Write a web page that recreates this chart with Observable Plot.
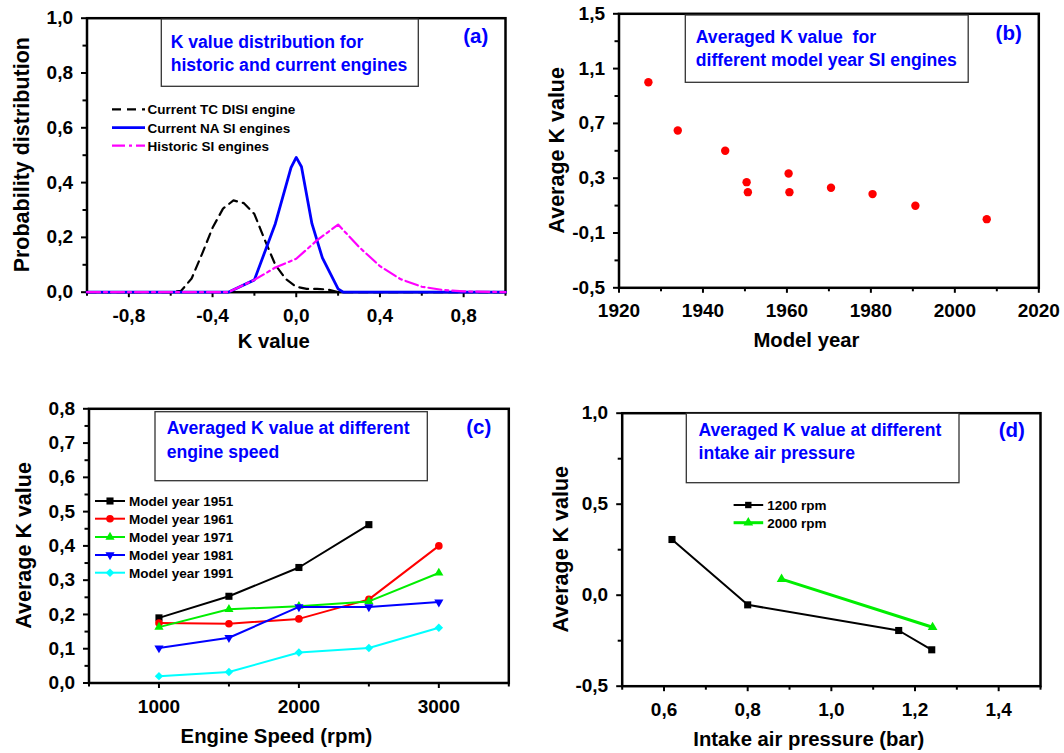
<!DOCTYPE html>
<html><head><meta charset="utf-8">
<script src="https://cdn.jsdelivr.net/npm/d3@7"></script>
<script src="https://cdn.jsdelivr.net/npm/@observablehq/plot@0.6"></script>
<style>
body{margin:0;background:#fff;}
#fig{position:relative;width:1064px;height:753px;overflow:hidden;background:#fff;}
#fig svg{position:absolute;}
</style></head><body><div id="fig"></div>
<script>
// ---------- Panel (a): K value distributions ----------
const tcK      = [-1, -0.6, -0.55, -0.5, -0.45, -0.4, -0.35, -0.3, -0.25, -0.2, -0.15, -0.1, -0.05, 0, 0.05, 0.1, 0.15, 0.2, 1];
const tcProb   = [0, 0, 0.005, 0.05, 0.14, 0.235, 0.305, 0.335, 0.325, 0.285, 0.19, 0.1, 0.048, 0.02, 0.012, 0.012, 0.01, 0, 0];
const naK      = [-1, -0.325, -0.2, -0.1, -0.025, 0, 0.025, 0.075, 0.125, 0.2, 0.225, 1];
const naProb   = [0, 0, 0.045, 0.25, 0.455, 0.492, 0.458, 0.25, 0.125, 0.012, 0, 0];
const histK    = [-1, -0.325, -0.2, -0.1, 0, 0.1, 0.2, 0.3, 0.4, 0.5, 0.6, 0.7, 0.8, 1];
const histProb = [0, 0, 0.045, 0.09, 0.122, 0.19, 0.247, 0.165, 0.095, 0.047, 0.02, 0.008, 0.003, 0];
const aSeries  = ["Current TC DISI engine", "Current NA SI engines", "Historic SI engines"];

// ---------- Panel (b): averaged K vs model year ----------
const modelYears = [1927, 1934, 1945.3, 1950.4, 1950.7, 1960.4, 1960.6, 1970.5, 1980.4, 1990.6, 2007.6];
const avgKYear   = [1.0, 0.648, 0.5, 0.271, 0.198, 0.334, 0.198, 0.23, 0.184, 0.099, 0.001];

// ---------- Panel (c): averaged K vs engine speed ----------
const speeds  = [1000, 1500, 2000, 2500, 3000];
const cSeries = ["Model year 1951", "Model year 1961", "Model year 1971", "Model year 1981", "Model year 1991"];
const k1951 = [0.19, 0.253, 0.337, 0.462];
const k1961 = [0.175, 0.173, 0.187, 0.244, 0.4];
const k1971 = [0.163, 0.215, 0.224, 0.238, 0.321];
const k1981 = [0.102, 0.132, 0.222, 0.222, 0.236];
const k1991 = [0.02, 0.032, 0.089, 0.102, 0.161];

// ---------- Panel (d): averaged K vs intake pressure ----------
const dSeries = ["1200 rpm", "2000 rpm"];
const p1200 = [0.619, 0.8, 1.161, 1.24];
const k1200 = [0.306, -0.053, -0.194, -0.3];
const p2000 = [0.881, 1.242];
const k2000 = [0.088, -0.176];

// ---------- Tick values ----------
const aXTicks = [-0.8, -0.4, 0, 0.4, 0.8], aXMinor = [-1, -0.6, -0.2, 0.2, 0.6, 1];
const aYTicks = [0, 0.2, 0.4, 0.6, 0.8, 1.0], aYMinor = [0.1, 0.3, 0.5, 0.7, 0.9];
const bXTicks = [1920, 1940, 1960, 1980, 2000, 2020], bXMinor = [1930, 1950, 1970, 1990, 2010];
const bYTicks = [-0.5, -0.1, 0.3, 0.7, 1.1, 1.5], bYMinor = [-0.3, 0.1, 0.5, 0.9, 1.3];
const cXTicks = [1000, 2000, 3000], cXMinor = [500, 1500, 2500, 3500];
const cYTicks = [0, 0.1, 0.2, 0.3, 0.4, 0.5, 0.6, 0.7, 0.8], cYMinor = [0.05, 0.15, 0.25, 0.35, 0.45, 0.55, 0.65, 0.75];
const dXTicks = [0.6, 0.8, 1.0, 1.2, 1.4], dXMinor = [0.5, 0.7, 0.9, 1.1, 1.3, 1.5];
const dYTicks = [-0.5, 0, 0.5, 1.0], dYMinor = [-0.25, 0.25, 0.75];

const FONT = "'Liberation Sans', Arial, Helvetica, sans-serif";
const BLUE = "#0000ff";
const fmt1 = d => d.toFixed(1).replace(".", ",");
const fmtInt = d => String(d);
const zip = (xs, ys) => xs.map((x, i) => ({x, y: ys[i]}));
const TICKFONT = {fontSize: 19, fontWeight: "bold", fontFamily: FONT};

const fig = d3.select("#fig");

function txt(g, s, x, y, size, fill, anchor) {
  return g.append("text").attr("x", x).attr("y", y)
    .attr("font-size", size).attr("font-weight", "bold").attr("font-family", FONT)
    .attr("fill", fill).attr("text-anchor", anchor || "start").text(s);
}

function makePanel(cfg) {
  const [mt, mr, mb, ml] = cfg.m;
  const svgNode = Plot.plot({
    width: cfg.w, height: cfg.h,
    marginTop: mt, marginRight: mr, marginBottom: mb, marginLeft: ml,
    style: {fontFamily: FONT, fontSize: "19px", fontWeight: "bold", background: "transparent", overflow: "visible", color: "black"},
    x: {domain: cfg.xd, axis: null},
    y: {domain: cfg.yd, axis: null},
    marks: [
      Plot.frame({stroke: "black", strokeWidth: 2.5}),
      Plot.axisX(cfg.xm, {anchor: "bottom", tickSize: 4, strokeWidth: 2, tickFormat: () => "", label: null}),
      Plot.axisX(cfg.xt, {anchor: "bottom", tickSize: 5.5, strokeWidth: 2, tickPadding: 10.5, tickFormat: cfg.xf, label: null, ...TICKFONT}),
      Plot.axisY(cfg.ym, {anchor: "left", tickSize: 4, strokeWidth: 2, tickFormat: () => "", label: null}),
      Plot.axisY(cfg.yt, {anchor: "left", tickSize: 5.5, strokeWidth: 2, tickPadding: 8.5, tickFormat: fmt1, label: null, ...TICKFONT}),
      ...cfg.marks
    ]
  });
  const svg = d3.select(svgNode).style("left", cfg.left + "px").style("top", cfg.top + "px");
  fig.node().appendChild(svgNode);
  const fx0 = ml, fx1 = cfg.w - mr, fy0 = mt, fy1 = cfg.h - mb;
  const g = svg.append("g");
  // axis titles
  txt(g, cfg.xTitle, (fx0 + fx1) / 2 - 22, fy1 + cfg.xtOff, 20.3, "black", "middle");
  const yx = fx0 - cfg.ytOff, yy = (fy0 + fy1) / 2;
  txt(g, cfg.yTitle, yx, yy, 21.5, "black", "middle").attr("transform", `rotate(-90 ${yx} ${yy})`);
  // annotation box
  const b = cfg.box;
  g.append("rect").attr("x", b.x).attr("y", b.y).attr("width", b.w).attr("height", b.h)
    .attr("fill", "white").attr("stroke", "#333").attr("stroke-width", 1.3);
  b.lines.forEach((t, i) => txt(g, t, b.tx, b.base[i], 17.6, BLUE, "start"));
  txt(g, cfg.tag.t, cfg.tag.x, cfg.tag.y, 20.5, BLUE, "middle");
  // legend
  const L = cfg.legend;
  L.items.forEach((it, i) => {
    const y = L.rows[i];
    g.append("line").attr("x1", L.x1).attr("x2", L.x2).attr("y1", y).attr("y2", y)
      .attr("stroke", it.color).attr("stroke-width", it.sw || 2)
      .attr("stroke-dasharray", it.dash || null);
    if (it.symbol) {
      g.append("path").attr("d", d3.symbol(it.symbol, Math.PI * it.r * it.r)())
        .attr("transform", `translate(${L.mx},${y}) rotate(${it.rot || 0})`).attr("fill", it.color);
    }
    txt(g, it.label, L.tx, y + 4.8, 13.5, "black", "start");
  });
  return svgNode;
}

// ----- (a) -----
makePanel({
  left: 0, top: 0, w: 532, h: 376, m: [17.7, 27, 84.3, 86.5],
  xd: [-1, 1], yd: [0, 1], xt: aXTicks, xm: aXMinor, xf: fmt1, yt: aYTicks, ym: aYMinor,
  xTitle: "K value", yTitle: "Probability distribution", xtOff: 56, ytOff: 57,
  box: {x: 161.3, y: 19, w: 257, h: 67.3, tx: 170.7, base: [48.3, 71],
        lines: ["K value distribution for", "historic and current engines"]},
  tag: {t: "(a)", x: 475.7, y: 42.5},
  legend: {x1: 112, x2: 145, tx: 147.5, rows: [109.3, 127.7, 145.7], items: [
    {label: aSeries[0], color: "black", dash: "9,6", sw: 2.2},
    {label: aSeries[1], color: BLUE, sw: 2.8},
    {label: aSeries[2], color: "#ff00ff", dash: "13,4,3,4", sw: 2.2}
  ]},
  marks: [
    Plot.line(zip(tcK, tcProb), {x: "x", y: "y", stroke: "black", strokeWidth: 2.2, strokeDasharray: "9,6"}),
    Plot.line(zip(naK, naProb), {x: "x", y: "y", stroke: BLUE, strokeWidth: 2.8}),
    Plot.line(zip(histK, histProb), {x: "x", y: "y", stroke: "#ff00ff", strokeWidth: 2.2, strokeDasharray: "13,4,3,4"})
  ]
});

// ----- (b) -----
makePanel({
  left: 532, top: 0, w: 532, h: 376, m: [13.3, 25.7, 88.7, 86.5],
  xd: [1920, 2020], yd: [-0.5, 1.5], xt: bXTicks, xm: bXMinor, xf: fmtInt, yt: bYTicks, ym: bYMinor,
  xTitle: "Model year", yTitle: "Average K value", xtOff: 59.4, ytOff: 54,
  box: {x: 153.3, y: 15, w: 282.9, h: 67.3, tx: 163.8, base: [43.3, 66],
        lines: ["Averaged K value  for", "different model year SI engines"]},
  tag: {t: "(b)", x: 476.7, y: 40},
  legend: {rows: [], items: []},
  marks: [
    Plot.dot(zip(modelYears, avgKYear), {x: "x", y: "y", r: 4.2, fill: "#ff0000", stroke: "none"})
  ]
});

// ----- (c) -----
const cStyles = [
  {color: "black", symbol: d3.symbolSquare, sym: "square", r: 4},
  {color: "#ff0000", symbol: d3.symbolCircle, sym: "circle", r: 3.8},
  {color: "#00ee00", symbol: d3.symbolTriangle, sym: "triangle", r: 3.4},
  {color: BLUE, symbol: d3.symbolTriangle, sym: "triangle", r: 3.4, rot: 180},
  {color: "#00ffff", symbol: d3.symbolDiamond2, sym: "diamond2", r: 3.8}
];
const cData = [k1951, k1961, k1971, k1981, k1991];
const cMarks = [];
cData.forEach((ks, i) => {
  const s = cStyles[i];
  const d = zip(speeds.slice(0, ks.length), ks);
  cMarks.push(Plot.line(d, {x: "x", y: "y", stroke: s.color, strokeWidth: 2}));
  cMarks.push(Plot.dot(d, {x: "x", y: "y", symbol: s.sym, r: s.r, fill: s.color, stroke: "none", rotate: s.rot || 0}));
});
makePanel({
  left: 0, top: 376, w: 532, h: 377, m: [32.3, 23.7, 70.5, 88.5],
  xd: [500, 3500], yd: [0, 0.8], xt: cXTicks, xm: cXMinor, xf: fmtInt, yt: cYTicks, ym: cYMinor,
  xTitle: "Engine Speed (rpm)", yTitle: "Average K value", xtOff: 60.2, ytOff: 57,
  box: {x: 155, y: 35.7, w: 272.3, h: 69, tx: 166.7, base: [58.3, 81.7],
        lines: ["Averaged K value at different", "engine speed"]},
  tag: {t: "(c)", x: 478.8, y: 57.5},
  legend: {x1: 95, x2: 125, mx: 110, tx: 129, rows: [125, 142.7, 161, 179, 196.7],
    items: cStyles.map((s, i) => ({label: cSeries[i], color: s.color, symbol: s.symbol, r: s.r, rot: s.rot, sw: 2}))},
  marks: cMarks
});

// ----- (d) -----
const d1200 = zip(p1200, k1200), d2000 = zip(p2000, k2000);
makePanel({
  left: 532, top: 376, w: 532, h: 377, m: [36.7, 24, 67.3, 89.7],
  xd: [0.5, 1.5], yd: [-0.5, 1.0], xt: dXTicks, xm: dXMinor, xf: fmt1, yt: dYTicks, ym: dYMinor,
  xTitle: "Intake air pressure (bar)", yTitle: "Average K value", xtOff: 60.3, ytOff: 54,
  box: {x: 154.3, y: 37.3, w: 272.7, h: 69.4, tx: 166.5, base: [60, 82.7],
        lines: ["Averaged K value at different", "intake air pressure"]},
  tag: {t: "(d)", x: 479.8, y: 60.5},
  legend: {x1: 201.6, x2: 231.2, mx: 216.3, tx: 235.3, rows: [129, 146.7], items: [
    {label: dSeries[0], color: "black", symbol: d3.symbolSquare, r: 3.6, sw: 2},
    {label: dSeries[1], color: "#00ee00", symbol: d3.symbolTriangle, r: 3.6, sw: 3}
  ]},
  marks: [
    Plot.line(d1200, {x: "x", y: "y", stroke: "black", strokeWidth: 2}),
    Plot.dot(d1200, {x: "x", y: "y", symbol: "square", r: 4, fill: "black", stroke: "none"}),
    Plot.line(d2000, {x: "x", y: "y", stroke: "#00ee00", strokeWidth: 3}),
    Plot.dot(d2000, {x: "x", y: "y", symbol: "triangle", r: 3.6, fill: "#00ee00", stroke: "none"})
  ]
});
</script></body></html>
